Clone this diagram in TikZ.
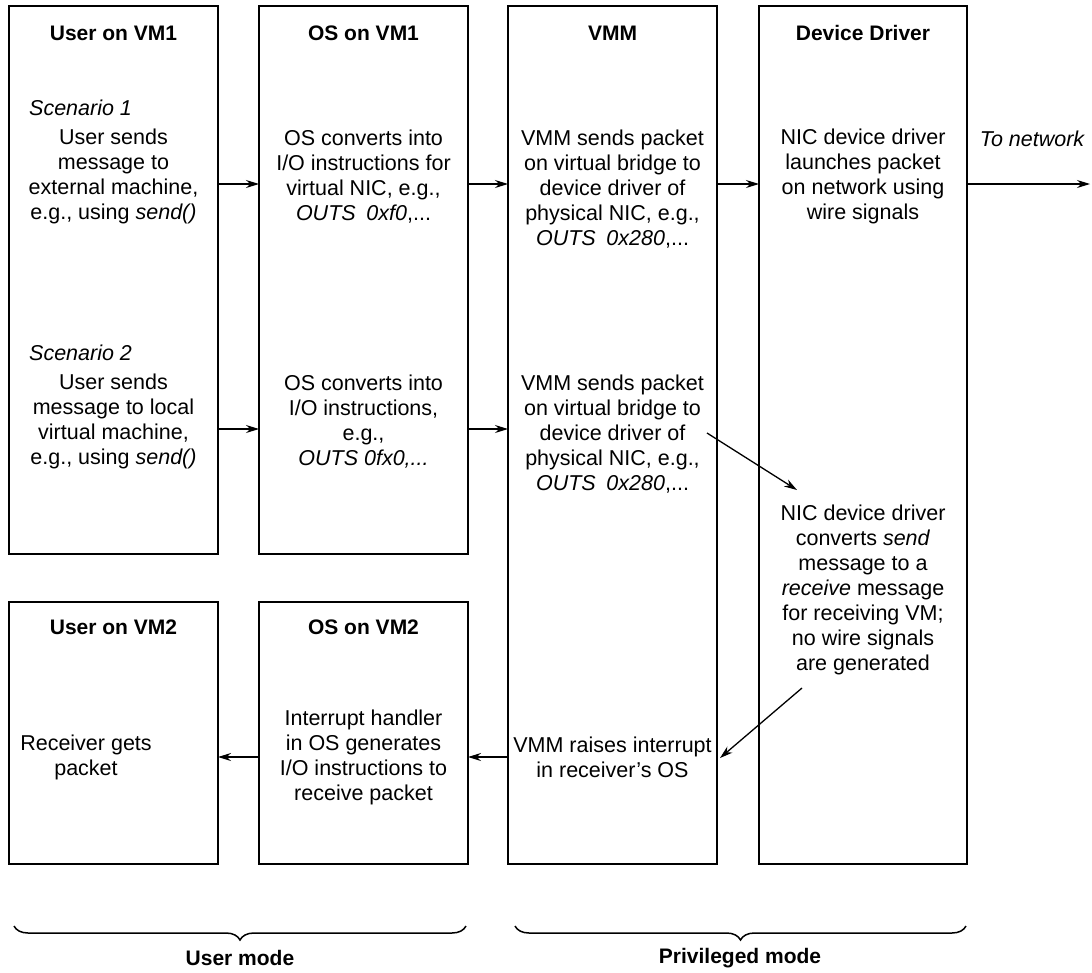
\documentclass[tikz,border=0pt]{standalone}
\usepackage{fontspec}
\setmainfont{Liberation Sans}
\usetikzlibrary{arrows.meta,decorations.pathreplacing}
\begin{document}
\begin{tikzpicture}[x=1pt,y=-1pt,
  box/.style={draw,line width=1.8pt,anchor=north west,inner sep=0pt,outer sep=0pt},
  txt/.style={align=center,inner sep=0pt,font=\fontsize{21.5pt}{25pt}\selectfont},
  hdr/.style={inner sep=0pt,font=\fontsize{21pt}{25pt}\selectfont\bfseries},
  scen/.style={anchor=west,inner sep=0pt,font=\fontsize{21.5pt}{25pt}\selectfont\itshape},
  arr/.style={line width=1.3pt,-{Stealth[length=13pt,width=8pt]}},
  brc/.style={line width=1.5pt,decorate,decoration={brace,mirror,amplitude=14pt}}]
\useasboundingbox[fill=white] (0,0) rectangle (1092,972);
% boxes
\node[box,minimum width=209pt,minimum height=548pt] (b1) at (9,6) {};
\node[box,minimum width=209pt,minimum height=548pt] (b2) at (259,6) {};
\node[box,minimum width=209pt,minimum height=858pt] (b3) at (508,6) {};
\node[box,minimum width=208pt,minimum height=858pt] (b4) at (759,6) {};
\node[box,minimum width=209pt,minimum height=262pt] (b5) at (9,602) {};
\node[box,minimum width=209pt,minimum height=262pt] (b6) at (259,602) {};
% headers
\node[hdr] (h1) at (113.5,33) {User on VM1};
\node[hdr] (h2) at (363.5,33) {OS on VM1};
\node[hdr] (h3) at (612.5,33) {VMM};
\node[hdr] (h4) at (863,33) {Device Driver};
\node[hdr] (h5) at (113.5,627) {User on VM2};
\node[hdr] (h6) at (363.5,627) {OS on VM2};
% scenario 1
\node[scen] (sc1) at (29,108) {Scenario 1};
\node[txt] (t11) at (113.5,176.5) {User sends\\message to\\external machine,\\e.g., using \textit{send()}};
\node[txt] (t12) at (363.5,176.5) {OS converts into\\I/O instructions for\\virtual NIC, e.g.,\\\textit{OUTS\enspace 0xf0},...};
\node[txt] (t13) at (612.5,189) {VMM sends packet\\on virtual bridge to\\device driver of\\physical NIC, e.g.,\\\textit{OUTS\enspace 0x280},...};
\node[txt] (t14) at (863,176.5) {NIC device driver\\launches packet\\on network using\\wire signals};
\node[inner sep=0pt,font=\fontsize{21.5pt}{25pt}\selectfont\itshape] (net) at (1032,139) {To network};
% scenario 2
\node[scen] (sc2) at (29,353) {Scenario 2};
\node[txt] (t21) at (113.5,421.5) {User sends\\message to local\\virtual machine,\\e.g., using \textit{send()}};
\node[txt] (t22) at (363.5,421.5) {OS converts into\\I/O instructions,\\e.g.,\\\textit{OUTS 0fx0,...}};
\node[txt] (t23) at (612.5,434) {VMM sends packet\\on virtual bridge to\\device driver of\\physical NIC, e.g.,\\\textit{OUTS\enspace 0x280},...};
\node[txt] (t24) at (863,590) {NIC device driver\\converts \textit{send}\\message to a\\\textit{receive} message\\for receiving VM;\\no wire signals\\are generated};
% bottom row
\node[txt] (t31) at (86,757.5) {Receiver gets\\packet};
\node[txt] (t32) at (363.5,757.5) {Interrupt handler\\in OS generates\\I/O instructions to\\receive packet};
\node[txt] (t33) at (612.5,757.5) {VMM raises interrupt\\in receiver's OS};
% connector levels
\coordinate (r1) at (0,184);
\coordinate (r2) at (0,429);
\coordinate (r3) at (0,757);
\coordinate (netend) at (1090,184);
\coordinate (d1s) at (707,433);
\coordinate (d1e) at (797,490);
\coordinate (d2s) at (802,688);
\coordinate (d2e) at (720,758);
% arrows
\draw[arr] (b1.east |- r1) -- (b2.west |- r1);
\draw[arr] (b2.east |- r1) -- (b3.west |- r1);
\draw[arr] (b3.east |- r1) -- (b4.west |- r1);
\draw[arr] (b4.east |- r1) -- (netend);
\draw[arr] (b1.east |- r2) -- (b2.west |- r2);
\draw[arr] (b2.east |- r2) -- (b3.west |- r2);
\draw[arr] (d1s) -- (d1e);
\draw[arr] (d2s) -- (d2e);
\draw[arr] (b3.west |- r3) -- (b6.east |- r3);
\draw[arr] (b6.west |- r3) -- (b5.east |- r3);
% braces
\coordinate (u1) at (14,926);
\coordinate (u2) at (466,926);
\coordinate (p1) at (515,926);
\coordinate (p2) at (966,926);
\draw[brc] (u1) -- (u2);
\draw[brc] (p1) -- (p2);
\node[hdr] (um) at (240,958) {User mode};
\node[hdr] (pm) at (740,958) {Privileged mode};
\end{tikzpicture}
\end{document}
